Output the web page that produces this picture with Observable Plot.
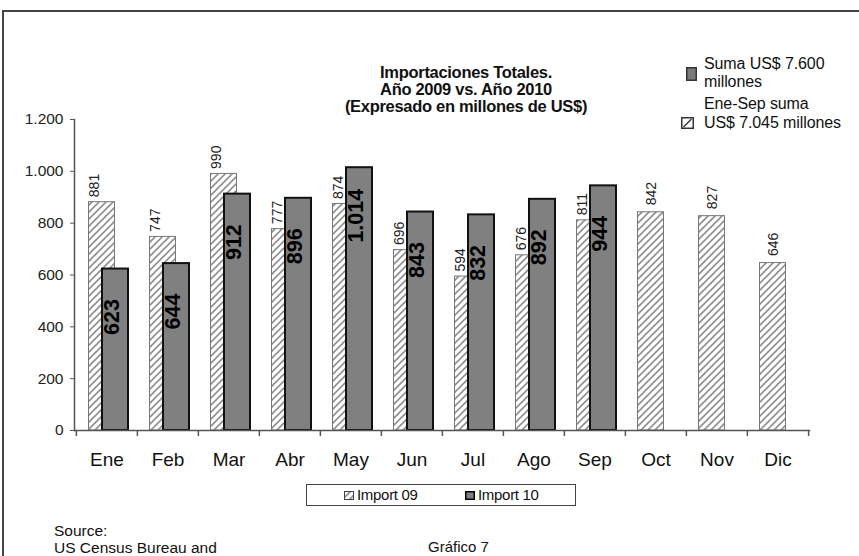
<!DOCTYPE html>
<html>
<head>
<meta charset="utf-8">
<script src="https://cdn.jsdelivr.net/npm/d3@7"></script>
<script src="https://cdn.jsdelivr.net/npm/@observablehq/plot@0.6"></script>
<style>
  html, body { margin: 0; padding: 0; background: #fff; }
  #wrap { position: relative; width: 859px; height: 556px; overflow: hidden; font-family: "Liberation Sans", Arial, sans-serif; color: #111; }
  #border { position: absolute; left: 2px; top: 10px; width: 900px; height: 600px; border-left: 2px solid #444; border-top: 2px solid #444; }
  #chart { position: absolute; left: 0; top: 0; }
  .abs { position: absolute; white-space: nowrap; }
  #title { left: 266px; width: 400px; top: 64px; text-align: center; font-weight: bold; font-size: 16.5px; line-height: 17px; letter-spacing: -0.3px; }
  .note { font-size: 16px; line-height: 18px; left: 704px; letter-spacing: -0.1px; }
  #legend { left: 306px; top: 484px; width: 270px; height: 22px; border: 1.5px solid #444; box-sizing: border-box; font-size: 15px; letter-spacing: -0.3px; }
  #legend .item { position: absolute; top: 1px; line-height: 18px; }
  #legend svg { vertical-align: 0px; margin-right: 3px; }
</style>
</head>
<body>
<div id="wrap">
  <div id="border"></div>
  <div id="chart"></div>
  <div id="title" class="abs"></div>
  <div class="abs note" id="n1" style="top:55px;"></div>
  <div class="abs note" id="n1b" style="top:73px;"></div>
  <div class="abs note" id="n2" style="top:95px;"></div>
  <div class="abs note" id="n3" style="top:114px;"></div>
  <svg class="abs" style="left:686px; top:67px;" width="11" height="14"><rect x="0.75" y="0.75" width="9.5" height="12.5" fill="#7a7a7a" stroke="#333" stroke-width="1.5"/></svg>
  <svg class="abs" style="left:681px; top:117px;" width="13" height="12"><rect x="0.75" y="0.75" width="11.5" height="10.5" fill="#fff" stroke="#333" stroke-width="1.5"/><path d="M2.5,10 L10.5,2" stroke="#333" stroke-width="1.5"/></svg>
  <div id="legend" class="abs">
    <div class="item" id="l1" style="left:37px;"></div>
    <div class="item" id="l2" style="left:158px;"></div>
  </div>
  <div class="abs" id="src" style="left:54px; top:522px; font-size:15.5px; line-height:17px;"></div>
  <div class="abs" id="graf" style="left:428px; top:538px; font-size:15px; line-height:18px;"></div>
</div>
<script>
// ---- data ----
const months = ["Ene", "Feb", "Mar", "Abr", "May", "Jun", "Jul", "Ago", "Sep", "Oct", "Nov", "Dic"];
const import09 = [881, 747, 990, 777, 874, 696, 594, 676, 811, 842, 827, 646];
const import10 = [623, 644, 912, 896, 1014, 843, 832, 892, 944];
const yTicks = [0, 200, 400, 600, 800, 1000, 1200];
const titleLines = ["Importaciones Totales.", "Año 2009 vs. Año 2010", "(Expresado en millones de US$)"];
const seriesNames = ["Import 09", "Import 10"];
const note10 = ["Suma US$ 7.600", "millones"];
const note09 = ["Ene-Sep suma", "US$ 7.045 millones"];
const sourceLines = ["Source:", "US Census Bureau and"];
const chartNumber = "Gráfico 7";

// ---- build ----
const locale = d3.formatLocale({decimal: ",", thousands: ".", grouping: [3], currency: ["", ""]});
const fmt = locale.format(",d");

const data09 = months.map((m, i) => ({month: m, value: import09[i], paired: i < import10.length}));
const data10 = import10.map((v, i) => ({month: months[i], value: v}));

const W = 859, H = 480, mL = 74, mR = 50, mT = 119, mB = 50;
const bw = (W - mL - mR) / months.length;

const chart = Plot.plot({
  width: W, height: H,
  marginLeft: mL, marginRight: mR, marginTop: mT, marginBottom: mB,
  style: {fontFamily: "'Liberation Sans', Arial, sans-serif", background: "transparent", color: "#222"},
  x: {domain: months, padding: 0, axis: null, label: null},
  y: {domain: [0, 1200], axis: null, label: null},
  marks: [
    Plot.barY(data09, {x: "month", y: "value", insetLeft: 12.5, insetRight: 22.5, fill: "url(#hatch)", stroke: "#777", strokeWidth: 1}),
    Plot.text(data09, {filter: d => d.paired, x: "month", y: "value", text: d => fmt(d.value), rotate: -90, textAnchor: "start", dy: -5, dx: -12, fontSize: 14, fill: "#222"}),
    Plot.text(data09, {filter: d => !d.paired, x: "month", y: "value", text: d => fmt(d.value), rotate: -90, textAnchor: "start", dy: -7, dx: -4, fontSize: 14, fill: "#222"}),
    Plot.barY(data10, {x: "month", y: "value", insetLeft: 26, insetRight: 9, fill: "#808080", stroke: "#111", strokeWidth: 2}),
    Plot.text(data10, {x: "month", y: "value", text: d => fmt(d.value), rotate: -90, textAnchor: "middle", dy: 48, dx: 5.5, fontSize: 21.5, fontWeight: "bold", fill: "#000"}),
    Plot.frame({anchor: "left", stroke: "#555", strokeWidth: 1.5}),
    Plot.frame({anchor: "bottom", stroke: "#555", strokeWidth: 1.5}),
    Plot.axisY({ticks: yTicks, tickFormat: fmt, tickSize: 4, tickPadding: 7, fontSize: 15.5, stroke: "#555", label: null}),
    Plot.ruleX(months, {x: d => d, y1: 0, y2: 0, insetBottom: -6, dx: -bw / 2, stroke: "#555", strokeWidth: 1.5}),
    Plot.ruleX(months.slice(-1), {x: d => d, y1: 0, y2: 0, insetBottom: -6, dx: bw / 2, stroke: "#555", strokeWidth: 1.5}),
    Plot.axisX({tickSize: 0, tickPadding: 22, fontSize: 19, fill: "#111", label: null})
  ]
});

d3.select(chart).insert("defs", ":first-child").html(
  `<pattern id="hatch" patternUnits="userSpaceOnUse" width="7" height="7">
     <rect width="7" height="7" fill="#fff"/>
     <path d="M-1,1 l2,-2 M0,7 l7,-7 M6,8 l2,-2" stroke="#8f8f8f" stroke-width="1.6"/>
   </pattern>`
);
document.getElementById("chart").appendChild(chart);

document.getElementById("title").innerHTML = titleLines.join("<br>");
document.getElementById("n1").textContent = note10[0];
document.getElementById("n1b").textContent = note10[1];
document.getElementById("n2").textContent = note09[0];
document.getElementById("n3").textContent = note09[1];

const sw09 = `<svg width="10" height="9"><rect x="0.5" y="0.5" width="9" height="8" fill="url(#hatch)" stroke="#444" stroke-width="1"/></svg>`;
const sw10 = `<svg width="10" height="9"><rect x="0.75" y="0.75" width="8.5" height="7.5" fill="#808080" stroke="#000" stroke-width="1.5"/></svg>`;
document.getElementById("l1").innerHTML = sw09 + seriesNames[0];
document.getElementById("l2").innerHTML = sw10 + seriesNames[1];
document.getElementById("src").innerHTML = sourceLines.join("<br>");
document.getElementById("graf").textContent = chartNumber;
</script>
</body>
</html>
